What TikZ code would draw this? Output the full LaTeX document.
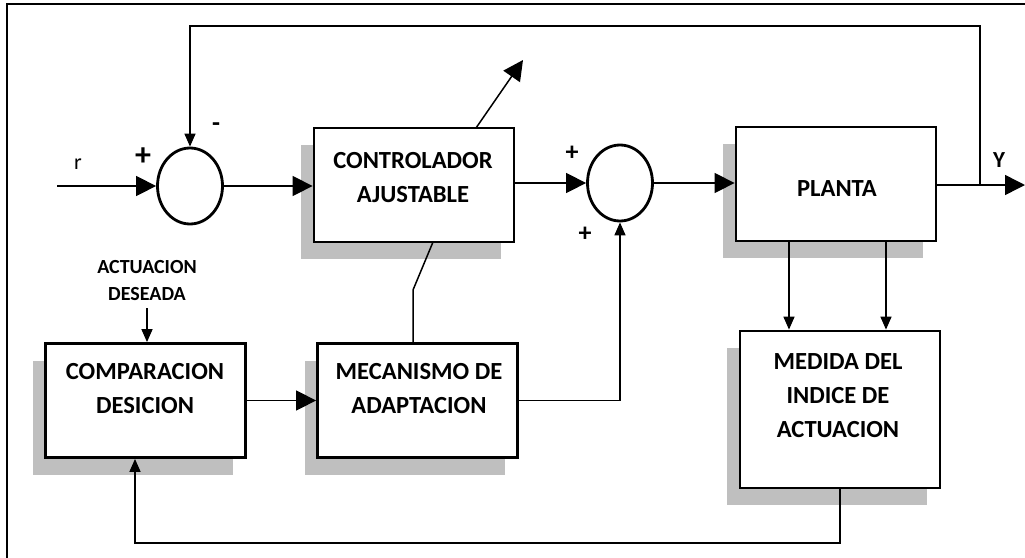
\documentclass[tikz,border=0pt]{standalone}
\usepackage{fontspec}
\setmainfont{Carlito}
\usetikzlibrary{arrows.meta,shapes.geometric,shadows}

\begin{document}
\begin{tikzpicture}[x=0.5pt, y=-0.5pt,
  box/.style={draw, line width=1.4pt, fill=white, minimum width=100pt, minimum height=57pt,
    drop shadow={shadow xshift=-6.5pt, shadow yshift=-8.5pt, fill=gray!50, opacity=1}},
  sum/.style={draw, ellipse, line width=1.4pt, minimum width=32.5pt, minimum height=38pt, inner sep=0pt},
  txt/.style={align=center, font=\bfseries\fontsize{12.3}{17}\selectfont},
  sml/.style={align=center, font=\bfseries\fontsize{10}{13.5}\selectfont},
  sgn/.style={font=\bfseries\fontsize{13}{13}\selectfont},
  big/.style={-{Triangle[length=10pt,width=10pt]}, line width=0.75pt},
  lil/.style={-{Triangle[length=6.5pt,width=5.5pt]}, line width=0.75pt},
  wire/.style={line width=0.75pt}]
  \useasboundingbox (0,0) rectangle (1025,558);
  \draw[line width=1pt] (7,558) -- (7,4) -- (1025,4);

  \node[sum] (sum1) at (190,186) {};
  \node[sum] (sum2) at (620,183) {};
  \node[box] (ctrl) at (414,185) {};
  \node[txt] (ctrltxt) at (413,178) {CONTROLADOR\\AJUSTABLE};
  \node[box] (planta) at (836,184) {};
  \node[txt] (plantatxt) at (837,189) {PLANTA};
  \node[box] (comp) at (145.5,400.5) {};
  \node[txt] (comptxt) at (145,389) {COMPARACION\\DESICION};
  \node[box] (mec) at (417.5,400.5) {};
  \node[txt] (mectxt) at (419,389) {MECANISMO DE\\ADAPTACION};
  \node[box, minimum height=78.5pt] (medida) at (840,409.5) {};
  \node[txt] (medidatxt) at (838,396) {MEDIDA DEL\\INDICE DE\\ACTUACION};
  \node[sml] (des) at (147,281) {ACTUACION\\DESEADA};

  \node[font=\fontsize{11}{11}\selectfont] (rlbl) at (78,164) {r};
  \node[font=\bfseries\fontsize{11.5}{11.5}\selectfont] (ylbl) at (999,160) {Y};
  \node[font=\bfseries\fontsize{16}{16}\selectfont] (p1) at (143,157) {+};
  \node[sgn] (m1) at (216,127) {-};
  \node[sgn] (p2) at (572,153) {+};
  \node[sgn] (p3) at (585,234) {+};

  \coordinate (rin) at (57,186);
  \coordinate (yout) at (1025,185);
  \coordinate (ybranch) at (980,185);
  \coordinate (fbtop) at (980,26);
  \coordinate (adjbase) at (476,128);
  \coordinate (adjtip) at (523,60);
  \coordinate (adjlow) at (433,242);
  \coordinate (adjbend) at (413,290);
  \coordinate (fbbot) at (135,543);

  \draw[big] (rin) -- (sum1.west);
  \draw[big] (sum1.east) -- (sum1.east -| ctrl.west);
  \draw[big] (ctrl.east |- sum2.west) -- (sum2.west);
  \draw[big] (sum2.east) -- (sum2.east -| planta.west);
  \draw[big] (planta.east |- yout) -- (yout);
  \draw[lil] (ybranch) -- (fbtop) -| (sum1.north);
  \draw[big] (adjbase) -- (adjtip);
  \draw[wire] (adjbend |- mec.north) -- (adjbend) -- (adjlow);
  \draw[lil] (mec.east) -| (sum2.south);
  \draw[big] (comp.east) -- (mec.west);
  \draw[lil] (des.south) -- (des.south |- comp.north);
  \draw[lil] ([xshift=-23.5pt]planta.south) -- ([xshift=-25.5pt]medida.north);
  \draw[lil] ([xshift=25pt]planta.south) -- ([xshift=23pt]medida.north);
  \draw[lil] (medida.south) |- (fbbot) -- (fbbot |- comp.south);
\end{tikzpicture}
\end{document}
